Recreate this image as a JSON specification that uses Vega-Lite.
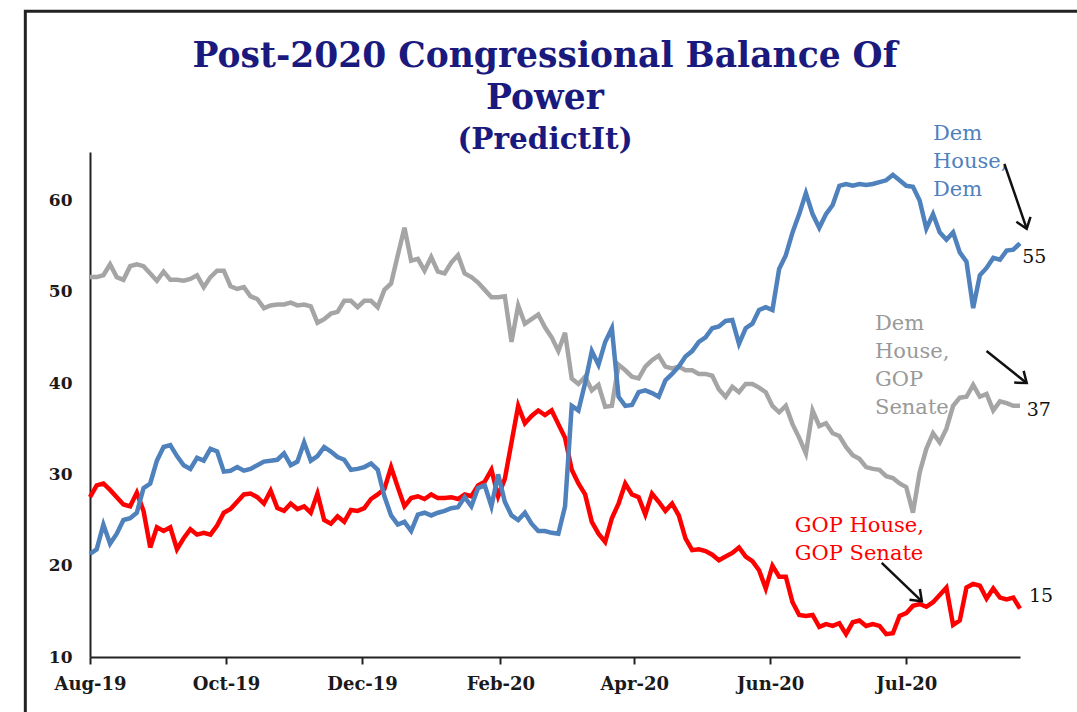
{
  "$schema": "https://vega.github.io/schema/vega-lite/v6.json",
  "width": 930,
  "height": 505,
  "autosize": {"type": "none"},
  "padding": {"left": 90, "top": 152, "right": 57, "bottom": 55},
  "background": "white",
  "title": {
    "text": ["Post-2020 Congressional Balance Of", "Power"],
    "subtitle": "(PredictIt)",
    "font": "DejaVu Serif",
    "fontSize": 34.5,
    "fontWeight": "bold",
    "color": "#1a1a7e",
    "subtitleFont": "DejaVu Serif",
    "subtitleFontSize": 29.5,
    "subtitleFontWeight": "bold",
    "subtitleColor": "#1a1a7e",
    "lineHeight": 42,
    "subtitleLineHeight": 38,
    "subtitlePadding": 10,
    "anchor": "middle",
    "offset": -146,
    "dx": -10
  },
  "config": {
    "view": {"stroke": null},
    "axis": {"grid": false, "domainColor": "#222", "domainWidth": 2, "labelFont": "DejaVu Serif", "labelFontWeight": "bold", "labelFontSize": 17, "labelColor": "#1a1a1a", "tickColor": "#222", "tickWidth": 2},
    "axisX": {"tickSize": 7, "labelPadding": 11, "labelFontSize": 18, "labelFlush": false},
    "axisY": {"ticks": false, "labelPadding": 18}
  },
  "data": {"values": [
    {"date":"2019-08-01","DD":21.3,"DG":51.6,"GG":27.5},
    {"date":"2019-08-04","DD":21.8,"DG":51.6,"GG":28.8},
    {"date":"2019-08-07","DD":24.5,"DG":51.8,"GG":29.0},
    {"date":"2019-08-10","DD":22.4,"DG":53.0,"GG":28.3},
    {"date":"2019-08-13","DD":23.5,"DG":51.6,"GG":27.5},
    {"date":"2019-08-16","DD":25.0,"DG":51.3,"GG":26.7},
    {"date":"2019-08-19","DD":25.2,"DG":52.8,"GG":26.5},
    {"date":"2019-08-22","DD":25.8,"DG":53.0,"GG":28.0},
    {"date":"2019-08-25","DD":28.5,"DG":52.8,"GG":26.0},
    {"date":"2019-08-28","DD":29.0,"DG":52.0,"GG":22.0},
    {"date":"2019-08-31","DD":31.5,"DG":51.2,"GG":24.2},
    {"date":"2019-09-03","DD":33.0,"DG":52.2,"GG":23.8},
    {"date":"2019-09-06","DD":33.2,"DG":51.3,"GG":24.2},
    {"date":"2019-09-09","DD":32.0,"DG":51.3,"GG":21.8},
    {"date":"2019-09-12","DD":31.0,"DG":51.2,"GG":23.0},
    {"date":"2019-09-15","DD":30.6,"DG":51.4,"GG":24.0},
    {"date":"2019-09-18","DD":31.8,"DG":51.8,"GG":23.4},
    {"date":"2019-09-21","DD":31.5,"DG":50.5,"GG":23.6},
    {"date":"2019-09-24","DD":32.8,"DG":51.6,"GG":23.4},
    {"date":"2019-09-27","DD":32.5,"DG":52.3,"GG":24.4},
    {"date":"2019-09-30","DD":30.3,"DG":52.3,"GG":25.8},
    {"date":"2019-10-03","DD":30.4,"DG":50.6,"GG":26.2},
    {"date":"2019-10-06","DD":30.8,"DG":50.3,"GG":27.0},
    {"date":"2019-10-09","DD":30.4,"DG":50.5,"GG":27.8},
    {"date":"2019-10-12","DD":30.6,"DG":49.5,"GG":27.9},
    {"date":"2019-10-15","DD":31.0,"DG":49.2,"GG":27.5},
    {"date":"2019-10-18","DD":31.4,"DG":48.2,"GG":26.8},
    {"date":"2019-10-21","DD":31.5,"DG":48.5,"GG":28.2},
    {"date":"2019-10-24","DD":31.6,"DG":48.6,"GG":26.3},
    {"date":"2019-10-27","DD":32.3,"DG":48.6,"GG":26.0},
    {"date":"2019-10-30","DD":31.0,"DG":48.8,"GG":26.8},
    {"date":"2019-11-02","DD":31.4,"DG":48.5,"GG":26.2},
    {"date":"2019-11-05","DD":33.5,"DG":48.6,"GG":26.5},
    {"date":"2019-11-08","DD":31.5,"DG":48.4,"GG":25.8},
    {"date":"2019-11-11","DD":32.0,"DG":46.6,"GG":27.9},
    {"date":"2019-11-14","DD":33.0,"DG":47.0,"GG":25.0},
    {"date":"2019-11-17","DD":32.5,"DG":47.6,"GG":24.6},
    {"date":"2019-11-20","DD":31.9,"DG":47.8,"GG":25.4},
    {"date":"2019-11-23","DD":31.6,"DG":49.0,"GG":24.8},
    {"date":"2019-11-26","DD":30.5,"DG":49.0,"GG":26.1},
    {"date":"2019-11-29","DD":30.6,"DG":48.3,"GG":26.0},
    {"date":"2019-12-02","DD":30.8,"DG":49.0,"GG":26.3},
    {"date":"2019-12-05","DD":31.2,"DG":49.0,"GG":27.3},
    {"date":"2019-12-08","DD":30.5,"DG":48.3,"GG":27.8},
    {"date":"2019-12-11","DD":27.6,"DG":50.2,"GG":28.4},
    {"date":"2019-12-14","DD":25.5,"DG":50.9,"GG":30.8},
    {"date":"2019-12-17","DD":24.5,"DG":54.0,"GG":28.6},
    {"date":"2019-12-20","DD":24.8,"DG":57.0,"GG":26.5},
    {"date":"2019-12-23","DD":23.8,"DG":53.4,"GG":27.4},
    {"date":"2019-12-26","DD":25.6,"DG":53.6,"GG":27.6},
    {"date":"2019-12-29","DD":25.8,"DG":52.3,"GG":27.3},
    {"date":"2020-01-01","DD":25.5,"DG":53.8,"GG":27.8},
    {"date":"2020-01-04","DD":25.8,"DG":52.2,"GG":27.4},
    {"date":"2020-01-07","DD":26.0,"DG":52.0,"GG":27.4},
    {"date":"2020-01-10","DD":26.3,"DG":53.2,"GG":27.5},
    {"date":"2020-01-13","DD":26.4,"DG":54.0,"GG":27.3},
    {"date":"2020-01-16","DD":27.5,"DG":52.0,"GG":27.8},
    {"date":"2020-01-19","DD":26.5,"DG":51.6,"GG":27.6},
    {"date":"2020-01-22","DD":28.5,"DG":51.0,"GG":28.8},
    {"date":"2020-01-25","DD":28.8,"DG":50.2,"GG":29.2},
    {"date":"2020-01-28","DD":26.5,"DG":49.4,"GG":30.5},
    {"date":"2020-01-31","DD":30.0,"DG":49.4,"GG":27.6},
    {"date":"2020-02-03","DD":27.0,"DG":49.5,"GG":29.5},
    {"date":"2020-02-06","DD":25.5,"DG":44.5,"GG":33.5},
    {"date":"2020-02-09","DD":25.0,"DG":48.5,"GG":37.5},
    {"date":"2020-02-12","DD":25.8,"DG":46.5,"GG":35.6},
    {"date":"2020-02-15","DD":24.6,"DG":47.0,"GG":36.4},
    {"date":"2020-02-18","DD":23.8,"DG":47.5,"GG":37.0},
    {"date":"2020-02-21","DD":23.8,"DG":46.1,"GG":36.5},
    {"date":"2020-02-24","DD":23.6,"DG":45.0,"GG":37.0},
    {"date":"2020-02-27","DD":23.5,"DG":43.5,"GG":35.5},
    {"date":"2020-03-01","DD":26.5,"DG":45.5,"GG":34.0},
    {"date":"2020-03-04","DD":37.5,"DG":40.5,"GG":30.5},
    {"date":"2020-03-07","DD":37.0,"DG":39.9,"GG":29.0},
    {"date":"2020-03-10","DD":40.0,"DG":40.7,"GG":27.8},
    {"date":"2020-03-13","DD":43.5,"DG":39.2,"GG":24.8},
    {"date":"2020-03-16","DD":42.0,"DG":39.8,"GG":23.5},
    {"date":"2020-03-19","DD":44.5,"DG":37.4,"GG":22.6},
    {"date":"2020-03-22","DD":46.0,"DG":37.5,"GG":25.2},
    {"date":"2020-03-25","DD":38.5,"DG":42.0,"GG":26.8},
    {"date":"2020-03-28","DD":37.5,"DG":41.4,"GG":29.0},
    {"date":"2020-03-31","DD":37.6,"DG":40.7,"GG":27.8},
    {"date":"2020-04-03","DD":39.0,"DG":40.5,"GG":27.5},
    {"date":"2020-04-06","DD":39.2,"DG":41.8,"GG":25.6},
    {"date":"2020-04-09","DD":38.9,"DG":42.5,"GG":27.9},
    {"date":"2020-04-12","DD":38.5,"DG":43.0,"GG":27.0},
    {"date":"2020-04-15","DD":40.3,"DG":41.8,"GG":26.0},
    {"date":"2020-04-18","DD":41.0,"DG":41.6,"GG":26.8},
    {"date":"2020-04-21","DD":41.8,"DG":41.8,"GG":25.5},
    {"date":"2020-04-24","DD":42.9,"DG":41.4,"GG":23.0},
    {"date":"2020-04-27","DD":43.5,"DG":41.4,"GG":21.7},
    {"date":"2020-04-30","DD":44.5,"DG":41.0,"GG":21.8},
    {"date":"2020-05-03","DD":45.0,"DG":41.0,"GG":21.6},
    {"date":"2020-05-06","DD":46.0,"DG":40.8,"GG":21.2},
    {"date":"2020-05-09","DD":46.2,"DG":39.3,"GG":20.6},
    {"date":"2020-05-12","DD":46.8,"DG":38.5,"GG":21.0},
    {"date":"2020-05-15","DD":46.9,"DG":39.6,"GG":21.4},
    {"date":"2020-05-18","DD":44.3,"DG":39.0,"GG":22.0},
    {"date":"2020-05-21","DD":46.0,"DG":39.9,"GG":21.0},
    {"date":"2020-05-24","DD":46.5,"DG":39.9,"GG":20.5},
    {"date":"2020-05-27","DD":48.0,"DG":39.5,"GG":19.5},
    {"date":"2020-05-30","DD":48.3,"DG":39.0,"GG":17.5},
    {"date":"2020-06-02","DD":48.0,"DG":37.5,"GG":20.0},
    {"date":"2020-06-05","DD":52.5,"DG":36.8,"GG":18.8},
    {"date":"2020-06-08","DD":54.0,"DG":37.5,"GG":18.8},
    {"date":"2020-06-11","DD":56.5,"DG":35.5,"GG":16.0},
    {"date":"2020-06-14","DD":58.5,"DG":34.0,"GG":14.6},
    {"date":"2020-06-17","DD":60.8,"DG":32.3,"GG":14.5},
    {"date":"2020-06-20","DD":58.5,"DG":37.0,"GG":14.6},
    {"date":"2020-06-23","DD":57.0,"DG":35.3,"GG":13.3},
    {"date":"2020-06-26","DD":58.5,"DG":35.6,"GG":13.6},
    {"date":"2020-06-29","DD":59.5,"DG":34.5,"GG":13.4},
    {"date":"2020-07-02","DD":61.6,"DG":34.2,"GG":13.7},
    {"date":"2020-07-05","DD":61.8,"DG":33.0,"GG":12.5},
    {"date":"2020-07-08","DD":61.6,"DG":32.1,"GG":13.8},
    {"date":"2020-07-11","DD":61.8,"DG":31.7,"GG":14.0},
    {"date":"2020-07-14","DD":61.7,"DG":30.8,"GG":13.4},
    {"date":"2020-07-17","DD":61.8,"DG":30.6,"GG":13.6},
    {"date":"2020-07-20","DD":62.0,"DG":30.5,"GG":13.4},
    {"date":"2020-07-23","DD":62.2,"DG":29.8,"GG":12.5},
    {"date":"2020-07-26","DD":62.8,"DG":29.6,"GG":12.6},
    {"date":"2020-07-29","DD":62.2,"DG":29.0,"GG":14.5},
    {"date":"2020-08-01","DD":61.6,"DG":28.6,"GG":14.8},
    {"date":"2020-08-04","DD":61.5,"DG":25.8,"GG":15.6},
    {"date":"2020-08-07","DD":60.0,"DG":30.2,"GG":15.8},
    {"date":"2020-08-10","DD":56.9,"DG":32.8,"GG":15.5},
    {"date":"2020-08-13","DD":58.5,"DG":34.5,"GG":16.0},
    {"date":"2020-08-16","DD":56.5,"DG":33.5,"GG":16.8},
    {"date":"2020-08-19","DD":55.7,"DG":35.0,"GG":17.6},
    {"date":"2020-08-22","DD":56.5,"DG":37.5,"GG":13.5},
    {"date":"2020-08-25","DD":54.3,"DG":38.4,"GG":14.0},
    {"date":"2020-08-28","DD":53.3,"DG":38.5,"GG":17.6},
    {"date":"2020-08-31","DD":48.2,"DG":39.8,"GG":18.0},
    {"date":"2020-09-03","DD":51.8,"DG":38.5,"GG":17.8},
    {"date":"2020-09-06","DD":52.6,"DG":38.8,"GG":16.4},
    {"date":"2020-09-09","DD":53.7,"DG":37.0,"GG":17.5},
    {"date":"2020-09-12","DD":53.5,"DG":38.0,"GG":16.5},
    {"date":"2020-09-15","DD":54.5,"DG":37.8,"GG":16.3},
    {"date":"2020-09-18","DD":54.6,"DG":37.5,"GG":16.5},
    {"date":"2020-09-21","DD":55.3,"DG":37.5,"GG":15.3}
  ]},
  "encoding": {
    "x": {
      "field": "date",
      "type": "temporal",
      "title": null,
      "scale": {"type": "utc", "nice": false, "domain": [{"year": 2019, "month": 8, "date": 1, "utc": true}, {"year": 2020, "month": 9, "date": 21, "utc": true}]},
      "axis": {
        "values": [
          {"year": 2019, "month": 8, "date": 1, "utc": true},
          {"year": 2019, "month": 10, "date": 1, "utc": true},
          {"year": 2019, "month": 12, "date": 1, "utc": true},
          {"year": 2020, "month": 2, "date": 1, "utc": true},
          {"year": 2020, "month": 4, "date": 1, "utc": true},
          {"year": 2020, "month": 6, "date": 1, "utc": true},
          {"year": 2020, "month": 8, "date": 1, "utc": true}
        ],
        "labelExpr": "utcFormat(datum.value, '%b-%y') == 'Aug-20' ? 'Jul-20' : utcFormat(datum.value, '%b-%y')"
      }
    },
    "y": {
      "field": "value",
      "type": "quantitative",
      "title": null,
      "scale": {"domain": [10, 65.3], "nice": false, "zero": false},
      "axis": {"values": [10, 20, 30, 40, 50, 60]}
    }
  },
  "layer": [
    {
      "data": {"values": [{"date": "2019-07-03", "value": 80.7, "date2": "2021-06-01", "value2": 0}], "format": {"parse": {"date": "date", "date2": "date"}}},
      "mark": {"type": "rect", "fill": null, "stroke": "#222", "strokeWidth": 3},
      "encoding": {"x2": {"field": "date2"}, "y2": {"field": "value2"}}
    },
    {
      "transform": [{"fold": ["DG"], "as": ["series", "value"]}],
      "mark": {"type": "line", "color": "#A5A5A5", "strokeWidth": 4.5}
    },
    {
      "transform": [{"fold": ["GG"], "as": ["series", "value"]}],
      "mark": {"type": "line", "color": "#FF0000", "strokeWidth": 4.5}
    },
    {
      "transform": [{"fold": ["DD"], "as": ["series", "value"]}],
      "mark": {"type": "line", "color": "#4F81BD", "strokeWidth": 4.5}
    },
    {
      "data": {"values": [
        {"date": "2020-08-13", "value": 68.5, "label": "Dem\nHouse,\nDem", "series": "DD"},
        {"date": "2020-07-18", "value": 47.7, "label": "Dem\nHouse,\nGOP\nSenate", "series": "DG"},
        {"date": "2020-06-12", "value": 25.5, "label": "GOP House,\nGOP Senate", "series": "GG"}
      ], "format": {"parse": {"date": "date"}}},
      "mark": {"type": "text", "align": "left", "baseline": "top", "font": "DejaVu Serif", "fontSize": 21, "lineHeight": 28, "lineBreak": "\n"},
      "encoding": {
        "text": {"field": "label"},
        "color": {"field": "series", "type": "nominal", "scale": {"domain": ["DD", "DG", "GG"], "range": ["#4F81BD", "#999999", "#FF0000"]}, "legend": null}
      }
    },
    {
      "data": {"values": [
        {"date": "2020-09-22", "value": 53.8, "label": "55"},
        {"date": "2020-09-24", "value": 37.05, "label": "37"},
        {"date": "2020-09-25", "value": 16.7, "label": "15"}
      ], "format": {"parse": {"date": "date"}}},
      "mark": {"type": "text", "align": "left", "baseline": "middle", "font": "DejaVu Serif", "fontSize": 19, "color": "#111"},
      "encoding": {"text": {"field": "label"}}
    },
    {
      "data": {"values": [
        {"arrow": "a1", "date": "2020-09-14", "value": 64.0, "date2": "2020-09-24", "value2": 56.9},
        {"arrow": "a2", "date": "2020-09-06", "value": 43.5, "date2": "2020-09-24", "value2": 40.0},
        {"arrow": "a3", "date": "2020-07-21", "value": 20.3, "date2": "2020-08-08", "value2": 16.1}
      ], "format": {"parse": {"date": "date", "date2": "date"}}},
      "mark": {"type": "rule", "color": "#111", "strokeWidth": 2.5},
      "encoding": {"x2": {"field": "date2"}, "y2": {"field": "value2"}}
    },
    {
      "data": {"values": [
        {"arrow": "a1", "date": "2020-09-24", "value": 56.9},
        {"arrow": "a2", "date": "2020-09-24", "value": 40.0},
        {"arrow": "a3", "date": "2020-08-08", "value": 16.1}
      ], "format": {"parse": {"date": "date"}}},
      "layer": [
        {
          "transform": [{"filter": "datum.arrow == 'a1'"}],
          "mark": {"type": "point", "shape": "M-1,-0.75L0,0L-1,0.75", "filled": false, "stroke": "#111", "strokeWidth": 2.5, "opacity": 1, "size": 400, "angle": 71}
        },
        {
          "transform": [{"filter": "datum.arrow == 'a2'"}],
          "mark": {"type": "point", "shape": "M-1,-0.75L0,0L-1,0.75", "filled": false, "stroke": "#111", "strokeWidth": 2.5, "opacity": 1, "size": 400, "angle": 39}
        },
        {
          "transform": [{"filter": "datum.arrow == 'a3'"}],
          "mark": {"type": "point", "shape": "M-1,-0.75L0,0L-1,0.75", "filled": false, "stroke": "#111", "strokeWidth": 2.5, "opacity": 1, "size": 400, "angle": 44}
        }
      ]
    }
  ]
}
